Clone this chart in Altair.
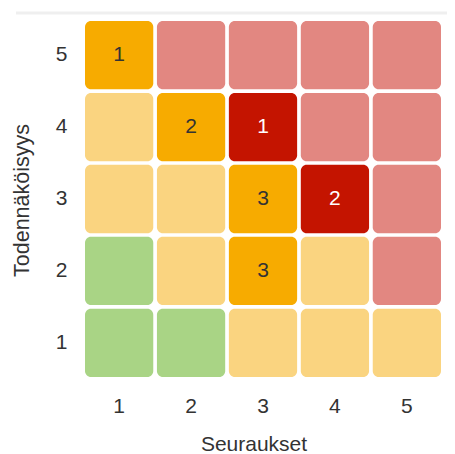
import altair as alt
import pandas as pd

consequences = [1, 2, 3, 4, 5]
probabilities = [5, 4, 3, 2, 1]
# base risk level per cell, rows = probability 5..1, cols = consequence 1..5
levels = [
    ["medium", "high", "high", "high", "high"],
    ["medium", "medium", "high", "high", "high"],
    ["medium", "medium", "medium", "high", "high"],
    ["low", "medium", "medium", "medium", "high"],
    ["low", "low", "medium", "medium", "medium"],
]
counts = [
    [1, 0, 0, 0, 0],
    [0, 2, 1, 0, 0],
    [0, 0, 3, 2, 0],
    [0, 0, 3, 0, 0],
    [0, 0, 0, 0, 0],
]

color_domain = ["low", "low-active", "medium", "medium-active", "high", "high-active"]
color_range = ["#A9D485", "#5E9E3A", "#FAD480", "#F7AB00", "#E28781", "#C41400"]

rows = []
for i, p in enumerate(probabilities):
    for j, c in enumerate(consequences):
        n = counts[i][j]
        key = levels[i][j] + ("-active" if n > 0 else "")
        rows.append({
            "Seuraukset": c,
            "Todennäköisyys": p,
            "key": key,
            "count": n,
            "label": str(n) if n > 0 else "",
            "tcolor": "white" if key == "high-active" else "#333333",
        })
df = pd.DataFrame(rows)

FONT = "Arial"

x = alt.X(
    "Seuraukset:O",
    scale=alt.Scale(paddingInner=0.051, paddingOuter=0),
    axis=alt.Axis(
        labelAngle=0, domain=False, ticks=False, tickSize=0, labelPadding=18,
        labelFontSize=21, labelColor="#333333", labelFont=FONT,
        titleFontSize=21, titleColor="#333333", titleFontWeight="normal", titleFont=FONT,
        titleX=168.5, titleY=56, titleBaseline="top",
    ),
)
y = alt.Y(
    "Todennäköisyys:O",
    sort="descending",
    scale=alt.Scale(paddingInner=0.051, paddingOuter=0),
    axis=alt.Axis(
        domain=False, ticks=False, tickSize=0, labelPadding=18,
        labelFontSize=21, labelColor="#333333", labelFont=FONT,
        titleFontSize=21.5, titleColor="#333333", titleFontWeight="normal", titleFont=FONT,
        titleX=-52, titleY=179, titleAngle=270, titleBaseline="bottom",
    ),
)

base = alt.Chart(df)
rects = base.mark_rect(cornerRadius=6).encode(
    x=x,
    y=y,
    color=alt.Color("key:N", scale=alt.Scale(domain=color_domain, range=color_range), legend=None),
)
texts = base.mark_text(fontSize=21, font=FONT).encode(
    x=alt.X("Seuraukset:O"),
    y=alt.Y("Todennäköisyys:O", sort="descending"),
    text="label:N",
    color=alt.Color("tcolor:N", scale=None),
)
border = alt.Chart(pd.DataFrame({"d": [0]})).mark_rule(color="#EFEFEF", strokeWidth=3).encode(
    x=alt.value(-69), x2=alt.value(368), y=alt.value(-8)
)

chart = alt.layer(border, rects, texts).properties(
    width=356, height=356,
    autosize=alt.AutoSizeParams(type="none"),
    padding={"left": 77, "top": 13, "right": 6, "bottom": 80},
).configure_view(stroke=None)

chart.save("out.html", embed_options={"renderer": "svg", "actions": False})
